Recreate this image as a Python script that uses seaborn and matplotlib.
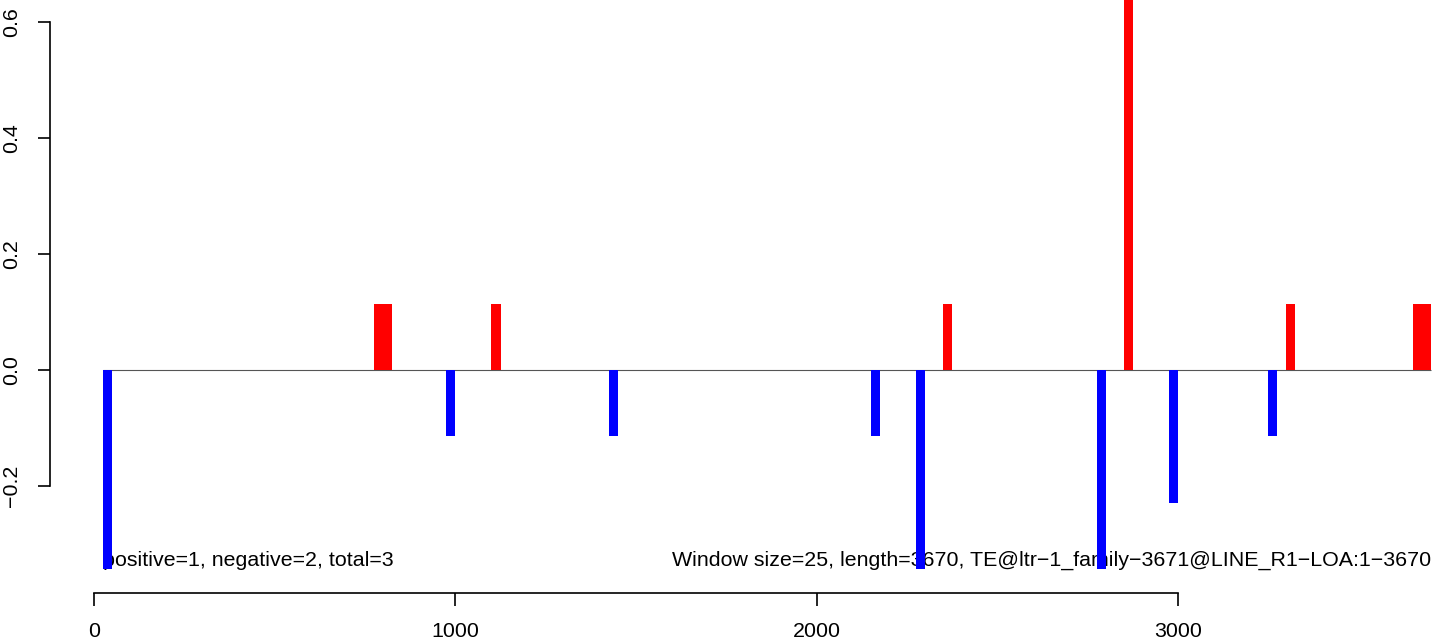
import matplotlib
matplotlib.use("Agg")
import matplotlib.pyplot as plt
import seaborn as sns

# window bins (centres) and their scores
pos_x = [787.5, 812.5, 1112.5, 2362.5, 2862.5, 3312.5, 3662.5, 3687.5]
pos_y = [0.1145, 0.1145, 0.1145, 0.1145, 0.687, 0.1145, 0.1145, 0.1145]
neg_x = [37.5, 987.5, 1437.5, 2162.5, 2287.5, 2787.5, 2987.5, 3262.5]
neg_y = [-0.3435, -0.1145, -0.1145, -0.1145, -0.3435, -0.3435, -0.229, -0.1145]

x_ticks = [0, 1000, 2000, 3000]
y_ticks = [-0.2, 0.0, 0.2, 0.4, 0.6]
left_note = "positive=1, negative=2, total=3"
right_note = "Window size=25, length=3670, TE@ltr\u22121_family\u22123671@LINE_R1\u2212LOA:1\u22123670"

sns.set_style("ticks")
plt.rcParams["font.family"] = ["Liberation Sans", "DejaVu Sans"]

fig = plt.figure(figsize=(14.33, 6.4), dpi=100)
ax = fig.add_axes([50 / 1433, 47 / 640, 1383 / 1433, 593 / 640])

ax.text(25, -0.329, left_note, ha="left", va="center", fontsize=15.4, color="black", zorder=1)
ax.text(3700, -0.329, right_note, ha="right", va="center", fontsize=15.4, color="black", zorder=1)

ax.hlines(0, 25, 3700, color="#555555", lw=0.8, zorder=2)
sns.histplot(x=pos_x, weights=pos_y, binwidth=25, binrange=(0, 3700), color="red",
             alpha=1, linewidth=0, ax=ax, zorder=3)
sns.histplot(x=neg_x, weights=neg_y, binwidth=25, binrange=(0, 3700), color="blue",
             alpha=1, linewidth=0, ax=ax, zorder=3)

ax.set_xlim(-122, 3706)
ax.set_ylim(-0.3845, 0.638)
ax.set_xticks(x_ticks)
ax.set_xticklabels([str(t) for t in x_ticks])
ax.set_yticks(y_ticks)
ax.set_yticklabels([f"{t:.1f}".replace("-", "\u2212") for t in y_ticks], rotation=90, va="center")
ax.set_xlabel("")
ax.set_ylabel("")

sns.despine(ax=ax)
ax.spines["left"].set_bounds(-0.2, 0.6)
ax.spines["bottom"].set_bounds(0, 3000)
for s in ("left", "bottom"):
    ax.spines[s].set_linewidth(1.2)
    ax.spines[s].set_color("black")
ax.tick_params(axis="both", direction="out", length=9, width=1.2, color="black",
               labelsize=15.4, labelcolor="black")
ax.tick_params(axis="x", pad=12)
ax.tick_params(axis="y", pad=12)
ax.grid(False)

fig.savefig("out.png", dpi=100)
